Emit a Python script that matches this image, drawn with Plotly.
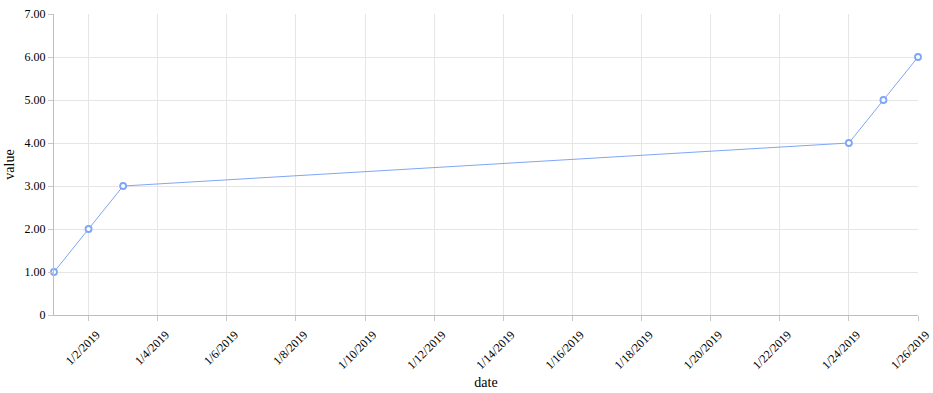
import plotly.graph_objects as go

dates = ["2019-01-01", "2019-01-02", "2019-01-03", "2019-01-24", "2019-01-25", "2019-01-26"]
values = [1, 2, 3, 4, 5, 6]

x_tick_dates = ["2019-01-%02d" % d for d in range(2, 27, 2)]
x_tick_labels = ["1/%d/2019" % d for d in range(2, 27, 2)]
y_tick_vals = [0, 1, 2, 3, 4, 5, 6, 7]
y_tick_labels = ["0", "1.00", "2.00", "3.00", "4.00", "5.00", "6.00", "7.00"]

line_color = "#7ea6f6"
fig = go.Figure()
fig.add_trace(go.Scatter(
    x=dates, y=values, mode="lines+markers",
    line=dict(color=line_color, width=1),
    marker=dict(symbol="circle", size=6, color="white", line=dict(color=line_color, width=1.8)),
    cliponaxis=False, showlegend=False,
))

font = dict(family="Liberation Serif", size=12, color="#000")
fig.update_layout(
    width=933, height=393,
    margin=dict(l=54, r=15, t=14, b=78),
    paper_bgcolor="white", plot_bgcolor="white",
    font=font,
    xaxis=dict(
        range=["2019-01-01", "2019-01-26"],
        tickvals=x_tick_dates, ticktext=x_tick_labels,
        tickangle=-45, ticks="outside", ticklen=5, tickcolor="#c8c8c8",
        ticklabelshift=8, ticklabelstandoff=2, ticklabeloverflow="allow",
        showgrid=True, gridcolor="#e6e6e6", gridwidth=1,
        showline=True, linecolor="#bdbdbd", linewidth=1,
        zeroline=False, automargin=False,
        title=dict(text="date", font=dict(family="Liberation Serif", size=14), standoff=6),
    ),
    yaxis=dict(
        range=[0, 7],
        tickvals=y_tick_vals, ticktext=y_tick_labels,
        ticks="outside", ticklen=5, tickcolor="#c8c8c8",
        showgrid=True, gridcolor="#e6e6e6", gridwidth=1,
        showline=True, linecolor="#bdbdbd", linewidth=1,
        zeroline=False, automargin=False,
        title=dict(text="value", font=dict(family="Liberation Serif", size=14), standoff=6),
    ),
)
fig.write_html("out.html")
